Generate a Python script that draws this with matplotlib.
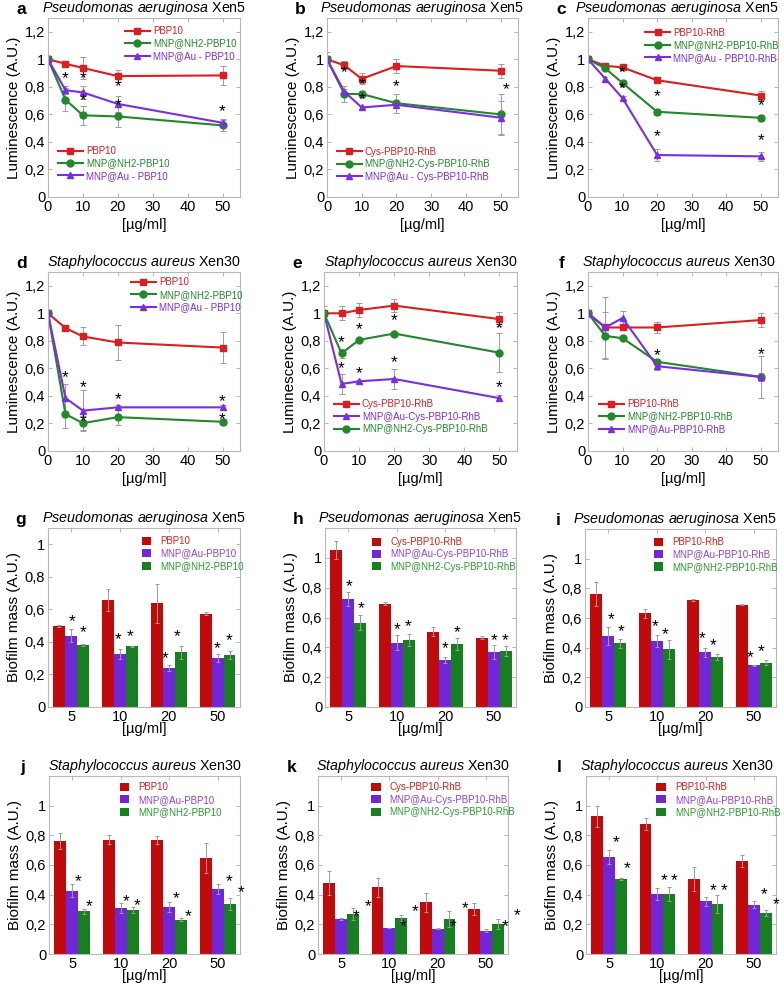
import matplotlib
matplotlib.use("Agg")
import matplotlib.pyplot as plt
from matplotlib.ticker import FuncFormatter
from matplotlib.patches import Patch

plt.rcParams['font.family'] = ['Liberation Sans', 'DejaVu Sans']
plt.rcParams['mathtext.fontset'] = 'custom'
plt.rcParams['mathtext.it'] = 'Liberation Sans:italic'
plt.rcParams['mathtext.rm'] = 'Liberation Sans'

# ---------------- data ----------------
conc = [0, 5, 10, 20, 50]
conc_bar = ["5", "10", "20", "50"]

# luminescence panels (a-f), series order as in legends
a_labels = ["PBP10", "MNP@NH2-PBP10", "MNP@Au - PBP10"]
a_vals = [[1, 0.968, 0.937, 0.878, 0.883], [1, 0.707, 0.593, 0.585, 0.52], [1, 0.776, 0.759, 0.676, 0.539]]
a_errs = [[0.01, 0.012, 0.08, 0.045, 0.07], [0.01, 0.085, 0.07, 0.08, 0.04], [0.01, 0.03, 0.05, 0.06, 0.03]]
a_star_x = [5, 10, 10, 20, 20, 50]
a_star_y = [0.86, 0.86, 0.70, 0.80, 0.66, 0.62]

b_labels = ["Cys-PBP10-RhB", "MNP@NH2-Cys-PBP10-RhB", "MNP@Au - Cys-PBP10-RhB"]
b_vals = [[1, 0.956, 0.858, 0.951, 0.917], [1, 0.748, 0.748, 0.681, 0.600], [1, 0.765, 0.65, 0.67, 0.576]]
b_errs = [[0.05, 0.03, 0.04, 0.05, 0.05], [0.02, 0.06, 0.02, 0.07, 0.15], [0.02, 0.02, 0.01, 0.02, 0.12]]
b_star_x = [5, 10, 10, 20, 51.5]
b_star_y = [0.90, 0.815, 0.705, 0.80, 0.78]

c_labels = ["PBP10-RhB", "MNP@NH2-PBP10-RhB", "MNP@Au - PBP10-RhB"]
c_vals = [[1, 0.953, 0.941, 0.848, 0.737], [1, 0.934, 0.828, 0.619, 0.575], [1, 0.86, 0.717, 0.305, 0.295]]
c_errs = [[0.01, 0.01, 0.015, 0.015, 0.03], [0.01, 0.01, 0.02, 0.02, 0.02], [0.01, 0.015, 0.02, 0.04, 0.03]]
c_star_x = [10, 10, 20, 20, 50, 50]
c_star_y = [0.90, 0.79, 0.73, 0.44, 0.66, 0.41]

d_labels = ["PBP10", "MNP@NH2-PBP10", "MNP@Au - PBP10"]
d_vals = [[1, 0.893, 0.832, 0.788, 0.751], [1, 0.268, 0.202, 0.246, 0.212], [1, 0.385, 0.293, 0.317, 0.317]]
d_errs = [[0.01, 0.01, 0.065, 0.125, 0.115], [0.01, 0.1, 0.05, 0.06, 0.02], [0.01, 0.1, 0.15, 0.02, 0.02]]
d_star_x = [5, 10, 10, 20, 50, 50]
d_star_y = [0.53, 0.46, 0.21, 0.37, 0.36, 0.23]

e_labels = ["Cys-PBP10-RhB", "MNP@Au-Cys-PBP10-RhB", "MNP@NH2-Cys-PBP10-RhB"]
e_vals = [[1, 1.0, 1.024, 1.056, 0.958], [1, 0.487, 0.506, 0.523, 0.384], [1, 0.709, 0.807, 0.853, 0.714]]
e_errs = [[0.05, 0.05, 0.05, 0.05, 0.05], [0.01, 0.07, 0.01, 0.07, 0.02], [0.01, 0.03, 0.01, 0.01, 0.14]]
e_star_x = [5, 5, 10, 10, 20, 20, 50, 50]
e_star_y = [0.79, 0.60, 0.88, 0.56, 0.95, 0.64, 0.89, 0.46]

f_labels = ["PBP10-RhB", "MNP@NH2-PBP10-RhB", "MNP@Au-PBP10-RhB"]
f_vals = [[1, 0.897, 0.897, 0.897, 0.951], [1, 0.836, 0.819, 0.648, 0.538], [1, 0.897, 0.966, 0.616, 0.538]]
f_errs = [[0.01, 0.02, 0.02, 0.04, 0.05], [0.01, 0.17, 0.01, 0.02, 0.15], [0.01, 0.22, 0.05, 0.03, 0.03]]
f_star_x = [20, 50]
f_star_y = [0.69, 0.70]

# biofilm panels (g-l): red, purple, green
g_labels = ["PBP10", "MNP@Au-PBP10", "MNP@NH2-PBP10"]
g_vals = [[0.499, 0.658, 0.638, 0.573], [0.438, 0.327, 0.239, 0.30], [0.38, 0.372, 0.337, 0.317]]
g_errs = [[0.005, 0.066, 0.12, 0.01], [0.04, 0.03, 0.02, 0.025], [0.005, 0.003, 0.04, 0.025]]
g_star_x = [0.01, 0.25, 0.96, 1.2, 1.93, 2.17, 3.0, 3.24]
g_star_y = [0.525, 0.454, 0.417, 0.43, 0.296, 0.43, 0.36, 0.41]

h_labels = ["Cys-PBP10-RhB", "MNP@Au-Cys-PBP10-RhB", "MNP@NH2-Cys-PBP10-RhB"]
h_vals = [[1.051, 0.691, 0.506, 0.463], [0.725, 0.43, 0.318, 0.369], [0.564, 0.452, 0.425, 0.374]]
h_errs = [[0.06, 0.01, 0.03, 0.01], [0.045, 0.05, 0.02, 0.045], [0.05, 0.04, 0.04, 0.035]]
h_star_x = [0.02, 0.26, 1.0, 1.24, 2.0, 2.24, 3.0, 3.24]
h_star_y = [0.805, 0.66, 0.52, 0.537, 0.39, 0.497, 0.445, 0.445]

i_labels = ["PBP10-RhB", "MNP@Au-PBP10-RhB", "MNP@NH2-PBP10-RhB"]
i_vals = [[0.763, 0.631, 0.72, 0.691], [0.481, 0.445, 0.369, 0.28], [0.43, 0.389, 0.34, 0.30]]
i_errs = [[0.08, 0.03, 0.005, 0.005], [0.06, 0.04, 0.03, 0.005], [0.03, 0.065, 0.02, 0.015]]
i_star_x = [0.05, 0.26, 0.97, 1.18, 1.93, 2.17, 2.93, 3.15]
i_star_y = [0.59, 0.508, 0.54, 0.49, 0.463, 0.414, 0.33, 0.374]

j_labels = ["PBP10", "MNP@Au-PBP10", "MNP@NH2-PBP10"]
j_vals = [[0.76, 0.771, 0.769, 0.647], [0.427, 0.31, 0.317, 0.438], [0.288, 0.299, 0.231, 0.337]]
j_errs = [[0.055, 0.03, 0.025, 0.1], [0.045, 0.035, 0.035, 0.035], [0.015, 0.02, 0.01, 0.04]]
j_star_x = [0.12, 0.34, 1.12, 1.34, 2.15, 2.39, 3.24, 3.49]
j_star_y = [0.485, 0.317, 0.355, 0.328, 0.373, 0.254, 0.485, 0.411]

k_labels = ["Cys-PBP10-RhB", "MNP@Au-Cys-PBP10-RhB", "MNP@NH2-Cys-PBP10-RhB"]
k_vals = [[0.479, 0.449, 0.348, 0.301], [0.236, 0.175, 0.169, 0.157], [0.27, 0.243, 0.236, 0.202]]
k_errs = [[0.08, 0.065, 0.065, 0.04], [0.005, 0.003, 0.003, 0.01], [0.04, 0.02, 0.055, 0.035]]
k_star_x = [0.3, 0.55, 1.29, 1.54, 2.32, 2.57, 3.39, 3.64]
k_star_y = [0.255, 0.322, 0.187, 0.283, 0.187, 0.306, 0.182, 0.256]

l_labels = ["PBP10-RhB", "MNP@Au-PBP10-RhB", "MNP@NH2-PBP10-RhB"]
l_vals = [[0.928, 0.876, 0.508, 0.625], [0.654, 0.407, 0.355, 0.333], [0.506, 0.404, 0.337, 0.276]]
l_errs = [[0.07, 0.04, 0.08, 0.04], [0.05, 0.04, 0.03, 0.025], [0.005, 0.05, 0.06, 0.02]]
l_star_x = [0.14, 0.38, 1.13, 1.35, 2.16, 2.39, 3.22, 3.47]
l_star_y = [0.753, 0.573, 0.497, 0.497, 0.427, 0.427, 0.40, 0.333]

PSEUDO = r"$\it{Pseudomonas\ aeruginosa}$ Xen5"
STAPH = r"$\it{Staphylococcus\ aureus}$ Xen30"

# ---------------- styles ----------------
RED, GREEN, PURPLE = '#dc1e1e', '#22882a', '#7a2ee4'
BRED, BPURPLE, BGREEN = '#c20a0a', '#7127d9', '#16801e'
ERR = '#9c9c9c'
W, H = 784, 985

fig = plt.figure(figsize=(W / 100, H / 100), dpi=100)


def comma(v, pos):
    s = ('%.1f' % v).rstrip('0').rstrip('.')
    return s.replace('.', ',')


def make_axes(x0, y0, x1, y1):
    ax = fig.add_axes([x0 / W, 1 - y1 / H, (x1 - x0) / W, (y1 - y0) / H])
    for s in ax.spines.values():
        s.set_color('#b8b8b8')
        s.set_linewidth(0.8)
    ax.tick_params(direction='in', length=3, width=0.6, color='#a8a8a8',
                   top=True, right=True, labelsize=10.5, pad=2)
    ax.yaxis.set_major_formatter(FuncFormatter(comma))
    return ax


def decorate(ax, letter, title, tx):
    ax.text(tx, 1.003, title, transform=ax.transAxes, ha='center', va='bottom', fontsize=10.3)
    ax.text(-0.14, 1.003, letter, transform=ax.transAxes, ha='center', va='bottom',
            fontsize=12.5, fontweight='bold')


def stars(ax, xs, ys):
    for x, y in zip(xs, ys):
        ax.text(x, y, '*', ha='center', va='center', fontsize=12.5, clip_on=False)


def put_legend(ax, handles, labels, colors, x, y, **kw):
    leg = ax.legend(handles, labels, loc='upper left', bbox_to_anchor=(x, y), frameon=False,
                    fontsize=7, borderpad=0, borderaxespad=0, labelspacing=0.25, **kw)
    for t, c in zip(leg.get_texts(), colors):
        t.set_color(c)
    return leg


def line_panel(box, letter, title, labels, vals, errs, sx, sy, legpos, styles, tx=0.5):
    ax = make_axes(*box)
    handles = []
    for v, e in zip(vals, errs):
        ax.errorbar(conc, v, yerr=e, fmt='none', ecolor=ERR, elinewidth=0.7, capsize=2, capthick=0.7)
    for v, (c, m, ms) in zip(vals, styles):
        h, = ax.plot(conc, v, color=c, marker=m, markersize=ms, lw=1.5)
        handles.append(h)
    ax.set_xlim(0, 55)
    ax.set_ylim(0, 1.3)
    ax.set_xticks([0, 10, 20, 30, 40, 50])
    ax.set_yticks([0, 0.2, 0.4, 0.6, 0.8, 1.0, 1.2])
    ax.set_ylabel('Luminescence (A.U.)', fontsize=11, labelpad=3)
    ax.set_xlabel('[µg/ml]', fontsize=10.5, labelpad=3)
    colors = [s[0] for s in styles]
    first = None
    for (x, y) in legpos:
        leg = put_legend(ax, handles, labels, colors, x, y, handlelength=2.6, handletextpad=0.3)
        if first is not None:
            ax.add_artist(first)
        first = leg
    stars(ax, sx, sy)
    decorate(ax, letter, title, tx)
    return ax


def bar_panel(box, letter, title, labels, vals, errs, sx, sy, legpos, ytop, tx=0.5):
    ax = make_axes(*box)
    w = 0.245
    handles = []
    for k, (v, e, c) in enumerate(zip(vals, errs, [BRED, BPURPLE, BGREEN])):
        xs = [i + (k - 1) * w for i in range(len(conc_bar))]
        ax.bar(xs, v, width=w, color=c, zorder=2)
        ax.errorbar(xs, v, yerr=e, fmt='none', ecolor=ERR, elinewidth=0.7, capsize=1.5,
                    capthick=0.7, zorder=3)
        handles.append(Patch(facecolor=c))
    ax.set_xlim(-0.48, 3.46)
    ax.set_ylim(0, ytop)
    ax.set_xticks(range(len(conc_bar)))
    ax.set_xticklabels(conc_bar)
    ax.set_yticks([0, 0.2, 0.4, 0.6, 0.8, 1.0])
    ax.set_ylabel('Biofilm mass (A.U.)', fontsize=11, labelpad=3)
    ax.set_xlabel('[µg/ml]', fontsize=10.5, labelpad=-1)
    put_legend(ax, handles, labels, [RED, '#8a44ea', '#2a9a30'], legpos[0], legpos[1],
               handlelength=1.0, handleheight=0.9, handletextpad=0.9)
    stars(ax, sx, sy)
    decorate(ax, letter, title, tx)
    return ax


STD = [(RED, 's', 5), (GREEN, 'o', 5), (PURPLE, '^', 4.5)]
E_ST = [(RED, 's', 5), (PURPLE, '^', 4.5), (GREEN, 'o', 5)]

line_panel((48, 18, 240, 197), 'a', PSEUDO, a_labels, a_vals, a_errs, a_star_x, a_star_y,
           [(0.40, 0.955), (0.05, 0.285)], STD)
line_panel((327, 18, 518, 197), 'b', PSEUDO, b_labels, b_vals, b_errs, b_star_x, b_star_y,
           [(0.05, 0.28)], STD)
line_panel((588, 18, 778, 197), 'c', PSEUDO, c_labels, c_vals, c_errs, c_star_x, c_star_y,
           [(0.30, 0.945)], STD, tx=0.47)
line_panel((48, 272, 240, 451), 'd', STAPH, d_labels, d_vals, d_errs, d_star_x, d_star_y,
           [(0.43, 0.97)], STD)
line_panel((324, 272, 517, 451), 'e', STAPH, e_labels, e_vals, e_errs, e_star_x, e_star_y,
           [(0.05, 0.29)], E_ST)
line_panel((588, 272, 778, 451), 'f', STAPH, f_labels, f_vals, f_errs, f_star_x, f_star_y,
           [(0.056, 0.29)], STD, tx=0.48)

bar_panel((48, 528, 240, 707), 'g', PSEUDO, g_labels, g_vals, g_errs, g_star_x, g_star_y,
          (0.487, 0.955), 1.1)
bar_panel((325, 528, 516, 707), 'h', PSEUDO, h_labels, h_vals, h_errs, h_star_x, h_star_y,
          (0.244, 0.95), 1.2)
bar_panel((585, 529, 776, 707), 'i', PSEUDO, i_labels, i_vals, i_errs, i_star_x, i_star_y,
          (0.36, 0.955), 1.2, tx=0.47)
bar_panel((49, 776, 240, 954), 'j', STAPH, j_labels, j_vals, j_errs, j_star_x, j_star_y,
          (0.37, 0.965), 1.2)
bar_panel((318, 776, 508, 954), 'k', STAPH, k_labels, k_vals, k_errs, k_star_x, k_star_y,
          (0.28, 0.965), 1.2)
bar_panel((586, 776, 776, 954), 'l', STAPH, l_labels, l_vals, l_errs, l_star_x, l_star_y,
          (0.37, 0.965), 1.2, tx=0.48)

fig.savefig('out.png', dpi=100)
